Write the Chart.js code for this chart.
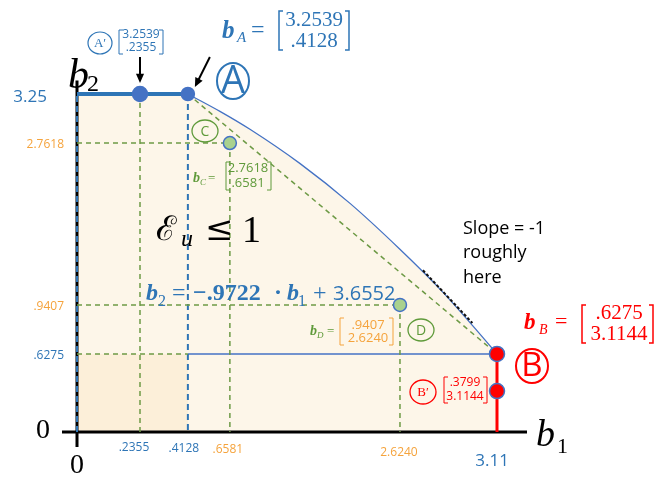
<!DOCTYPE html>
<html>
<head>
<meta charset="utf-8">
<script src="https://cdn.jsdelivr.net/npm/chart.js@4.4.1/dist/chart.umd.min.js"></script>
<style>
  html, body { margin: 0; padding: 0; background: #fff; }
  #wrap { width: 661px; height: 477px; }
</style>
</head>
<body>
<div id="wrap"><canvas id="chart"></canvas></div>
<script>
// corner points of the region, as (b1, b2)
const pointNames = ["A′", "A", "C", "D", "B", "B′"];
const pointB1 = [0.2355, 0.4128, 0.6581, 2.6240, 3.1144, 3.1144];
const pointB2 = [3.2539, 3.2539, 2.7618, 0.9407, 0.6275, 0.3799];

// boundary E_u = 1 between A and B
const curveB1 = [0.4128, 0.60, 0.89, 1.47, 2.05, 2.62, 2.83, 2.99, 3.1144];
const curveB2 = [3.2539, 3.08, 2.90, 2.53, 2.08, 1.57, 1.11, 0.81, 0.6275];

// straight line through A and B
const fitSlope = -0.9722;
const fitIntercept = 3.6552;

// short piece where the slope is about -1
const tangentB1 = [2.74, 2.99];
const tangentB2 = [1.33, 0.825];

// axis ticks
const xTicks = [0, 0.2355, 0.4128, 0.6581, 2.6240, 3.11];
const xTickLabels = ["0", ".2355", ".4128", ".6581", "2.6240", "3.11"];
const yTicks = [0, 0.6275, 0.9407, 2.7618, 3.25];
const yTickLabels = ["0", ".6275", ".9407", "2.7618", "3.25"];

// the sketch is not to scale: each axis is stretched piece by piece
const scaleAnchors = {
  x: { values: [0, 0.2355, 0.4128, 0.6581, 2.6240, 3.1144], fractions: [0, 0.15, 0.264, 0.364, 0.769, 1] },
  y: { values: [0, 0.3799, 0.6275, 0.9407, 2.7618, 3.2539], fractions: [0, 0.121, 0.231, 0.376, 0.855, 1] }
};

function toFraction(a, v) {
  const vs = a.values, fs = a.fractions;
  let i = 1;
  while (i < vs.length - 1 && v > vs[i]) i++;
  const t = (v - vs[i - 1]) / (vs[i] - vs[i - 1]);
  return fs[i - 1] + t * (fs[i] - fs[i - 1]);
}
function fromFraction(a, f) {
  const vs = a.values, fs = a.fractions;
  let i = 1;
  while (i < fs.length - 1 && f > fs[i]) i++;
  const t = (f - fs[i - 1]) / (fs[i] - fs[i - 1]);
  return vs[i - 1] + t * (vs[i] - vs[i - 1]);
}

class PiecewiseScale extends Chart.LinearScale {
  static id = 'piecewise';
  static defaults = Chart.LinearScale.defaults;
  getPixelForValue(value) {
    if (value === null || isNaN(value)) return NaN;
    return this.getPixelForDecimal(toFraction(scaleAnchors[this.axis], value));
  }
  getValueForPixel(pixel) {
    return fromFraction(scaleAnchors[this.axis], this.getDecimalForPixel(pixel));
  }
}
Chart.register(PiecewiseScale);

const BLUE = '#2e75b6', LINE_BLUE = '#4472c4', GREEN = '#6d9a45', GREEN_TXT = '#5f9a3a',
      ORANGE = '#f5a33c', RED = '#ff0000', CREAM = '#fdf6e9', CREAM_DARK = '#fcefd9';

const P = i => ({ x: pointB1[i], y: pointB2[i] });
const fit = b1 => fitSlope * b1 + fitIntercept;
const greenDash = { borderColor: GREEN, borderWidth: 1.5, borderDash: [5, 4] };
const blueDash = { borderColor: BLUE, borderWidth: 2, borderDash: [6, 4] };

function seg(pts, style, order) {
  return Object.assign({ data: pts, pointRadius: 0, fill: false, clip: false, order: order }, style);
}
function dots(idx, fill, border, radius) {
  return {
    data: idx.map(P), showLine: false, clip: false, order: 0,
    pointRadius: radius, pointBackgroundColor: fill, pointBorderColor: border, pointBorderWidth: 1.5
  };
}

const datasets = [
  // thick top edge b2 = 3.25, region under it
  seg([{ x: 0, y: pointB2[1] }, P(1)], { borderColor: BLUE, borderWidth: 4, fill: 'origin', backgroundColor: CREAM }, 4),
  // curved boundary A -> B, region under it
  seg(curveB1.map((x, i) => ({ x, y: curveB2[i] })),
      { borderColor: LINE_BLUE, borderWidth: 1.3, cubicInterpolationMode: 'monotone', fill: 'origin', backgroundColor: CREAM }, 4),
  // small box under b2 = .6275
  seg([{ x: 0, y: pointB2[4] }, { x: pointB1[1], y: pointB2[4] }], Object.assign({ fill: 'origin', backgroundColor: CREAM_DARK }, greenDash), 2),
  // guide lines
  seg([{ x: 0, y: pointB2[2] }, P(2)], greenDash, 3),
  seg([{ x: 0, y: pointB2[3] }, P(3)], greenDash, 3),
  seg([P(0), { x: pointB1[0], y: 0 }], greenDash, 3),
  seg([P(2), { x: pointB1[2], y: 0 }], greenDash, 3),
  seg([P(3), { x: pointB1[3], y: 0 }], greenDash, 3),
  seg([{ x: pointB1[1], y: fit(pointB1[1]) }, { x: pointB1[4], y: fit(pointB1[4]) }], greenDash, 3),
  seg([{ x: 0, y: 0 }, { x: 0, y: pointB2[1] }], blueDash, 3),
  seg([P(1), { x: pointB1[1], y: 0 }], blueDash, 3),
  seg([{ x: pointB1[1], y: pointB2[4] }, P(4)], { borderColor: LINE_BLUE, borderWidth: 1.5 }, 3),
  seg([P(4), { x: pointB1[4], y: 0 }], { borderColor: RED, borderWidth: 3 }, 2),
  seg(tangentB1.map((x, i) => ({ x, y: tangentB2[i] })), { borderColor: '#111', borderWidth: 2, borderDash: [3, 2] }, 2),
  // the points
  dots([0, 1], LINE_BLUE, LINE_BLUE, [7.5, 6.5]),
  dots([2, 3], '#a9d18e', LINE_BLUE, 6.5),
  dots([4, 5], RED, LINE_BLUE, 7.5)
];

// text helpers
function put(ctx, s, x, y, font, color, align, base) {
  ctx.font = font; ctx.fillStyle = color;
  ctx.textAlign = align || 'left'; ctx.textBaseline = base || 'alphabetic';
  ctx.fillText(s, x, y);
}
function brackets(ctx, x1, x2, y1, y2, color, lw) {
  const s = 4;
  ctx.strokeStyle = color; ctx.lineWidth = lw; ctx.setLineDash([]);
  ctx.beginPath();
  ctx.moveTo(x1 + s, y1); ctx.lineTo(x1, y1); ctx.lineTo(x1, y2); ctx.lineTo(x1 + s, y2);
  ctx.moveTo(x2 - s, y1); ctx.lineTo(x2, y1); ctx.lineTo(x2, y2); ctx.lineTo(x2 - s, y2);
  ctx.stroke();
}
function matrix(ctx, lines, cx, ys, font, color, bx, by, lw) {
  put(ctx, lines[0], cx, ys[0], font, color, 'center', 'middle');
  put(ctx, lines[1], cx, ys[1], font, color, 'center', 'middle');
  brackets(ctx, bx[0], bx[1], by[0], by[1], color, lw);
}
function circled(ctx, s, cx, cy, rx, ry, font, color, lw) {
  ctx.strokeStyle = color; ctx.lineWidth = lw; ctx.setLineDash([]);
  ctx.beginPath(); ctx.ellipse(cx, cy, rx, ry, 0, 0, Math.PI * 2); ctx.stroke();
  put(ctx, s, cx, cy + 1, font, color, 'center', 'middle');
}
function arrow(ctx, x1, y1, x2, y2) {
  const a = Math.atan2(y2 - y1, x2 - x1), h = 10;
  ctx.strokeStyle = '#000'; ctx.fillStyle = '#000'; ctx.lineWidth = 2; ctx.setLineDash([]);
  ctx.beginPath(); ctx.moveTo(x1, y1); ctx.lineTo(x2 - Math.cos(a) * h * 0.7, y2 - Math.sin(a) * h * 0.7); ctx.stroke();
  ctx.beginPath(); ctx.moveTo(x2, y2);
  ctx.lineTo(x2 - h * Math.cos(a - 0.42), y2 - h * Math.sin(a - 0.42));
  ctx.lineTo(x2 - h * Math.cos(a + 0.42), y2 - h * Math.sin(a + 0.42));
  ctx.closePath(); ctx.fill();
}

const SERIF = '"Liberation Serif", serif', SANS = '"Open Sans", sans-serif';

const sketch = {
  id: 'sketch',
  beforeDatasetsDraw(chart) {
    const ctx = chart.ctx, xs = chart.scales.x, ys = chart.scales.y;
    const x0 = xs.getPixelForValue(0), y0 = ys.getPixelForValue(0);
    ctx.save();
    ctx.strokeStyle = '#000'; ctx.lineWidth = 3;
    ctx.beginPath();
    ctx.moveTo(x0 - 15, y0); ctx.lineTo(xs.getPixelForValue(3.1144) + 30, y0);
    ctx.moveTo(x0, y0 + 15); ctx.lineTo(x0, ys.getPixelForValue(3.25) - 14);
    ctx.stroke();
    ctx.restore();
  },
  afterDatasetsDraw(chart) {
    const ctx = chart.ctx, xs = chart.scales.x, ys = chart.scales.y;
    ctx.save();

    // b2 ticks
    const yStyle = [
      { font: '28px ' + SERIF, color: '#000', x: 43, dy: -1, align: 'center' },
      { font: '12px ' + SANS, color: BLUE, x: 64, dy: 2, align: 'right' },
      { font: '12px ' + SANS, color: ORANGE, x: 64, dy: 2, align: 'right' },
      { font: '12px ' + SANS, color: ORANGE, x: 64, dy: 2, align: 'right' },
      { font: '17px ' + SANS, color: BLUE, x: 47, dy: 3, align: 'right' }
    ];
    yTicks.forEach((v, i) => {
      const s = yStyle[i];
      put(ctx, yTickLabels[i], s.x, ys.getPixelForValue(v) + s.dy, s.font, s.color, s.align, 'middle');
    });
    // b1 ticks
    const xStyle = [
      { font: '28px ' + SERIF, color: '#000', dx: 0, y: 466 },
      { font: '12px ' + SANS, color: BLUE, dx: -6, y: 448 },
      { font: '12px ' + SANS, color: BLUE, dx: -4, y: 449 },
      { font: '12px ' + SANS, color: ORANGE, dx: -2, y: 450 },
      { font: '12px ' + SANS, color: ORANGE, dx: -1, y: 453 },
      { font: '17px ' + SANS, color: BLUE, dx: -4, y: 461 }
    ];
    xTicks.forEach((v, i) => {
      const s = xStyle[i];
      put(ctx, xTickLabels[i], xs.getPixelForValue(v) + s.dx, s.y, s.font, s.color, 'center', 'middle');
    });

    // axis names
    put(ctx, 'b', 68, 88, 'italic 42px ' + SERIF, '#000');
    put(ctx, '2', 87, 91, '24px ' + SERIF, '#000');
    put(ctx, 'b', 536, 446, 'italic 38px ' + SERIF, '#000');
    put(ctx, '1', 557, 453, '22px ' + SERIF, '#000');

    // A' and A
    circled(ctx, pointNames[0], 100, 43, 12, 11, '13px ' + SERIF, BLUE, 1.2);
    matrix(ctx, ['3.2539', '.2355'], 141, [35, 48], '12px ' + SANS, BLUE, [119, 163], [30, 54], 1);
    put(ctx, 'b', 222, 38, 'bold italic 25px ' + SERIF, BLUE);
    put(ctx, 'A', 237, 42, 'italic 15px ' + SERIF, BLUE);
    put(ctx, '=', 251, 37, '24px ' + SERIF, BLUE);
    matrix(ctx, ['3.2539', '.4128'], 314, [20, 41], '21px ' + SERIF, BLUE, [279, 349], [11, 50], 1.5);
    circled(ctx, pointNames[1], 233, 81, 16, 18, '38px ' + SANS, BLUE, 2);
    const a0 = { x: xs.getPixelForValue(pointB1[0]), y: ys.getPixelForValue(pointB2[0]) };
    const a1 = { x: xs.getPixelForValue(pointB1[1]), y: ys.getPixelForValue(pointB2[1]) };
    arrow(ctx, a0.x, a0.y - 37, a0.x, a0.y - 11);
    arrow(ctx, a1.x + 22, a1.y - 37, a1.x + 7, a1.y - 7);

    // C
    circled(ctx, pointNames[2], 205, 131, 13, 11, '14px ' + SANS, GREEN_TXT, 1.3);
    put(ctx, 'b', 193, 182, 'bold italic 14px ' + SERIF, GREEN_TXT);
    put(ctx, 'C', 200, 185, 'italic 9px ' + SERIF, GREEN_TXT);
    put(ctx, '=', 208, 182, '13px ' + SERIF, GREEN_TXT);
    matrix(ctx, ['2.7618', '.6581'], 248, [168, 183], '13px ' + SANS, GREEN_TXT, [226, 271], [162, 190], 1);

    // D
    circled(ctx, pointNames[3], 421, 330, 13, 11, '14px ' + SANS, GREEN_TXT, 1.3);
    put(ctx, 'b', 310, 335, 'bold italic 14px ' + SERIF, GREEN_TXT);
    put(ctx, 'D', 317, 338, 'italic 9px ' + SERIF, GREEN_TXT);
    put(ctx, '=', 327, 335, '13px ' + SERIF, GREEN_TXT);
    matrix(ctx, ['.9407', '2.6240'], 368, [325, 338], '13px ' + SANS, ORANGE, [340, 393], [318, 345], 1);

    // B and B'
    put(ctx, 'b', 524, 329, 'bold italic 23px ' + SERIF, RED);
    put(ctx, 'B', 539, 334, 'italic 14px ' + SERIF, RED);
    put(ctx, '=', 555, 328, '22px ' + SERIF, RED);
    matrix(ctx, ['.6275', '3.1144'], 619, [313, 334], '21px ' + SERIF, RED, [582, 653], [305, 343], 1.5);
    circled(ctx, pointNames[4], 532, 366, 16, 17, '33px ' + SANS, RED, 2);
    circled(ctx, pointNames[5], 423, 392, 13, 12, '13px ' + SERIF, RED, 1.3);
    matrix(ctx, ['.3799', '3.1144'], 465, [383, 397], '12px ' + SANS, RED, [444, 487], [377, 403], 1);

    // region condition
    put(ctx, 'ℰ', 156, 240, '34px "DejaVu Serif", serif', '#000');
    put(ctx, 'u', 181, 246, 'italic 24px ' + SERIF, '#000');
    put(ctx, '≤', 205, 240, '34px "DejaVu Serif", serif', '#000');
    put(ctx, '1', 242, 242, '38px ' + SERIF, '#000');

    // fitted line equation
    put(ctx, 'b', 146, 300, 'bold italic 24px ' + SERIF, BLUE);
    put(ctx, '2', 158, 306, '16px ' + SERIF, BLUE);
    put(ctx, '=', 172, 300, '24px ' + SERIF, BLUE);
    put(ctx, '−.' + String(-fitSlope).slice(2), 193, 300, 'bold 24px ' + SERIF, BLUE);
    put(ctx, '·', 274, 300, 'bold 24px ' + SERIF, BLUE);
    put(ctx, 'b', 287, 300, 'bold italic 24px ' + SERIF, BLUE);
    put(ctx, '1', 298, 306, '16px ' + SERIF, BLUE);
    put(ctx, '+', 313, 300, '24px ' + SERIF, BLUE);
    put(ctx, String(fitIntercept), 333, 300, '20px ' + SANS, BLUE);

    // note on the slope
    put(ctx, 'Slope = -1', 463, 234, '18px ' + SANS, '#000');
    put(ctx, 'roughly', 463, 258, '18px ' + SANS, '#000');
    put(ctx, 'here', 463, 283, '18px ' + SANS, '#000');

    ctx.restore();
  }
};

new Chart(document.getElementById('chart'), {
  type: 'line',
  data: { datasets },
  options: {
    responsive: true,
    maintainAspectRatio: false,
    animation: false,
    events: [],
    layout: { padding: { left: 77, right: 164, top: 94, bottom: 45 } },
    scales: {
      x: { type: 'piecewise', min: 0, max: 3.1144, display: false },
      y: { type: 'piecewise', min: 0, max: 3.2539, display: false }
    },
    plugins: {
      legend: { display: false },
      tooltip: { enabled: false },
      filler: { drawTime: 'beforeDraw' }
    }
  },
  plugins: [sketch]
});
</script>
</body>
</html>
